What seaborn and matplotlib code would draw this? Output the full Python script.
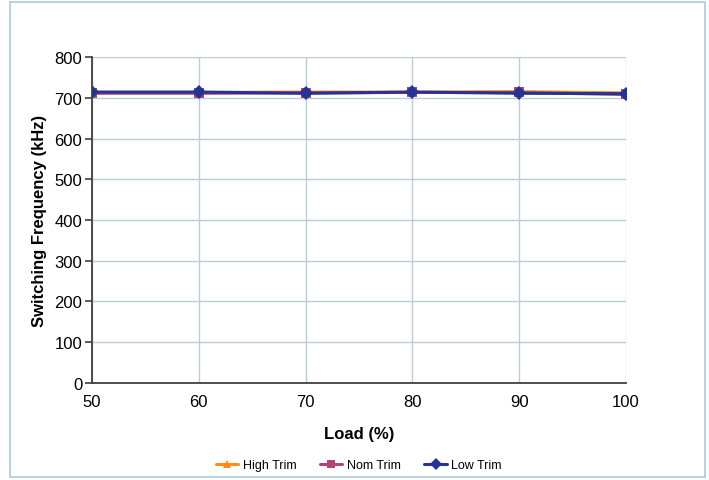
import matplotlib
matplotlib.use("Agg")
import matplotlib.pyplot as plt
import numpy as np
import pandas as pd
import seaborn as sns
from matplotlib.patches import Rectangle

# Data
load = [50, 60, 70, 80, 90, 100]
high_trim = [713, 713, 714, 714, 715, 712]
nom_trim = [711, 711, 712, 713, 713, 708]
low_trim = [714, 714, 711, 714, 711, 710]

series = ["High Trim", "Nom Trim", "Low Trim"]
colors = {"High Trim": "#FF8C1A", "Nom Trim": "#B0457A", "Low Trim": "#253494"}
markers = {"High Trim": "^", "Nom Trim": "s", "Low Trim": "D"}

df = pd.DataFrame({"Load": load, "High Trim": high_trim,
                   "Nom Trim": nom_trim, "Low Trim": low_trim})
long = df.melt(id_vars="Load", var_name="Series", value_name="Freq")

sns.set_theme(style="white")
plt.rcParams["font.family"] = ["Liberation Sans", "DejaVu Sans"]
plt.rcParams["text.color"] = "black"
plt.rcParams["axes.labelcolor"] = "black"
plt.rcParams["xtick.color"] = "black"
plt.rcParams["ytick.color"] = "black"

fig = plt.figure(figsize=(7.09, 4.81), dpi=100)
ax = fig.add_axes([0.1298, 0.2017, 0.7532, 0.6777])

sns.lineplot(data=long, x="Load", y="Freq", hue="Series", style="Series",
             hue_order=series, style_order=series, palette=colors,
             markers=markers, dashes=False, markersize=7, linewidth=2.2,
             markeredgewidth=0, ax=ax, legend=True)

ax.set_xlim(50, 100)
ax.set_ylim(0, 800)
ax.set_xticks(load)
ax.set_yticks(np.arange(0, 801, 100))
ax.grid(True, color="#BCCDD6", linewidth=1)
ax.set_axisbelow(True)
for side in ["top", "right"]:
    ax.spines[side].set_visible(False)
for side in ["left", "bottom"]:
    ax.spines[side].set_color("#404040")
    ax.spines[side].set_linewidth(1.3)
ax.tick_params(axis="y", length=5, width=1.2, color="#404040",
               labelsize=12, pad=2, left=True)
ax.tick_params(axis="x", length=0, labelsize=12, pad=8)
ax.set_xlabel("Load (%)", fontsize=12, fontweight="bold", labelpad=12)
ax.set_ylabel("Switching Frequency (kHz)", fontsize=12, fontweight="bold",
              labelpad=5)

handles, labels = ax.get_legend_handles_labels()
ax.legend(handles, labels, loc="center",
          bbox_to_anchor=(0.506, (481 - 466) / 481),
          bbox_transform=fig.transFigure, ncol=3, frameon=False, fontsize=9,
          handlelength=1.8, handletextpad=0.35, columnspacing=1.9,
          markerscale=0.85)

# light outer chart frame
fig.patches.append(Rectangle((10 / 709, 3 / 481), 695 / 709, 475 / 481,
                             transform=fig.transFigure, fill=False,
                             edgecolor="#A9C9D6", linewidth=1.2))

fig.savefig("out.png", dpi=100)
